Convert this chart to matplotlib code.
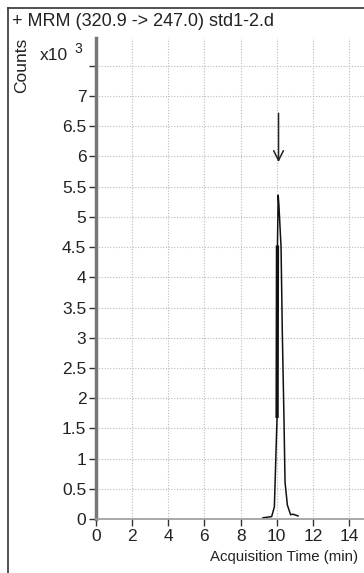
import matplotlib
matplotlib.use("Agg")
import matplotlib.pyplot as plt
from matplotlib.lines import Line2D

# -----------------------------
# Data (counts in thousands)
# -----------------------------
time_min = [9.24, 9.72, 9.87, 9.95, 10.02, 10.04, 10.08, 10.12, 10.24, 10.31,
            10.40, 10.46, 10.59, 10.77, 10.9, 11.18]
counts_k = [0.02, 0.04, 0.2, 1.0, 1.7, 4.5, 5.36, 5.2, 4.5, 3.08,
            1.69, 0.61, 0.23, 0.07, 0.08, 0.05]

x_ticks = [0, 2, 4, 6, 8, 10, 12, 14]
y_ticks = [0, 0.5, 1, 1.5, 2, 2.5, 3, 3.5, 4, 4.5, 5, 5.5, 6, 6.5, 7, 7.5]
y_labels = ["0", "0.5", "1", "1.5", "2", "2.5", "3", "3.5", "4", "4.5",
            "5", "5.5", "6", "6.5", "7", ""]

title = "+ MRM (320.9 -> 247.0) std1-2.d"
peak_time = 10.1

plt.rcParams["font.family"] = ["Liberation Sans", "DejaVu Sans"]
TEXT = "#222222"

fig = plt.figure(figsize=(3.64, 5.73), dpi=100)
ax = fig.add_axes([96 / 364, 1 - 519 / 573, 1 - 96 / 364, (519 - 38) / 573])

ax.plot(time_min, counts_k, color="#111111", lw=1.1)
# rising edge is drawn heavier in the original
ax.plot(time_min[4:6], counts_k[4:6], color="#111111", lw=2.4)

ax.set_xlim(0, 14.83)
ax.set_ylim(0, 7.96)
ax.set_xticks(x_ticks)
ax.set_yticks(y_ticks)
ax.set_yticklabels(y_labels)
ax.tick_params(axis="both", direction="out", length=5, width=1,
               color="#333333", labelsize=12.5, labelcolor=TEXT, pad=2)
ax.grid(True, color="#bbbbbb", linestyle=(0, (1, 1.5)), linewidth=0.8)

for side in ["top", "right"]:
    ax.spines[side].set_visible(False)
ax.spines["left"].set_color("#777777")
ax.spines["left"].set_linewidth(2.5)
ax.spines["bottom"].set_color("#999999")
ax.spines["bottom"].set_linewidth(1.2)

# peak marker arrow
ax.annotate("", xy=(peak_time, 5.86), xytext=(peak_time, 6.76),
            arrowprops=dict(arrowstyle="->,head_length=0.7,head_width=0.35",
                            color="#222222", lw=1.1))

# labels
fig.text(12 / 364, 1 - 22 / 573, title, fontsize=13, color=TEXT,
         ha="left", va="center")
fig.text(22 / 364, 1 - 65 / 573, "Counts", fontsize=12.5, color=TEXT,
         rotation=90, ha="center", va="center")
fig.text(40 / 364, 1 - 55 / 573, "x10", fontsize=12.5, color=TEXT,
         ha="left", va="center")
fig.text(74 / 364, 1 - 49 / 573, "3", fontsize=10, color=TEXT,
         ha="left", va="center")
fig.text(358 / 364, 1 - 557 / 573, "Acquisition Time (min)", fontsize=10.8,
         color=TEXT, ha="right", va="center")

# outer frame
fig.add_artist(Line2D([8 / 364, 8 / 364], [0, 1 - 8 / 573],
                      transform=fig.transFigure, color="#333333", lw=1.2))
fig.add_artist(Line2D([8 / 364, 1], [1 - 8 / 573, 1 - 8 / 573],
                      transform=fig.transFigure, color="#333333", lw=1.2))

fig.savefig("out.png", dpi=100)
